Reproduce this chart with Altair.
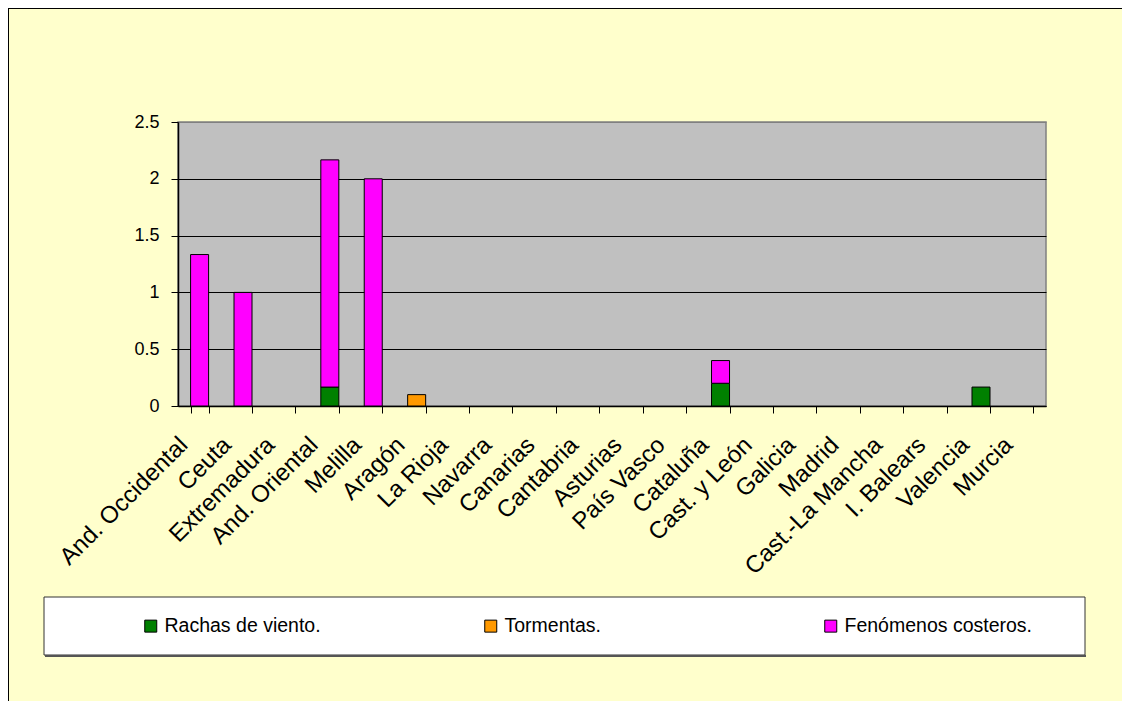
import altair as alt
import pandas as pd

categories = ["And. Occidental", "Ceuta", "Extremadura", "And. Oriental", "Melilla",
              "Aragón", "La Rioja", "Navarra", "Canarias", "Cantabria", "Asturias",
              "País Vasco", "Cataluña", "Cast. y León", "Galicia", "Madrid",
              "Cast.-La Mancha", "I. Balears", "Valencia", "Murcia"]
series = ["Rachas de viento.", "Tormentas.", "Fenómenos costeros."]
colors = ["#008000", "#FF9900", "#FF00FF"]

rachas = [0, 0, 0, 0.1667, 0, 0, 0, 0, 0, 0, 0, 0, 0.2, 0, 0, 0, 0, 0, 0.1667, 0]
tormentas = [0, 0, 0, 0, 0, 0.1, 0, 0, 0, 0, 0, 0, 0, 0, 0, 0, 0, 0, 0, 0]
costeros = [1.3333, 1.0, 0, 2.0, 2.0, 0, 0, 0, 0, 0, 0, 0, 0.2, 0, 0, 0, 0, 0, 0, 0]
y_ticks = [0, 0.5, 1, 1.5, 2, 2.5]

rows = []
for i, (name, vals) in enumerate(zip(series, [rachas, tormentas, costeros])):
    for c, v in zip(categories, vals):
        if v > 0:
            rows.append({"cat": c, "serie": name, "val": v, "ord": i})
df = pd.DataFrame(rows)

W, H = 868, 284
PL, PT = 170, 114
PR = 1114 - PL - W
PB = 693 - PT - H
FONT = "Liberation Sans"

one = pd.DataFrame({"k": [0]})

border_left = alt.Chart(one).mark_rule(color="black", strokeWidth=2).encode(
    x=alt.value(-170), y=alt.value(-PT), y2=alt.value(H + PB))
border_top = alt.Chart(one).mark_rule(color="black", strokeWidth=2).encode(
    x=alt.value(-PL), x2=alt.value(W + PR), y=alt.value(-114))

legend_box = alt.Chart(one).mark_rect(fill="white", stroke="#333333", strokeWidth=1).encode(
    x=alt.value(-134), x2=alt.value(907), y=alt.value(475), y2=alt.value(533))
legend_shadow = alt.Chart(one).mark_rule(color="#555555", strokeWidth=2).encode(
    x=alt.value(-133), x2=alt.value(908), y=alt.value(534))

bars = alt.Chart(df).mark_bar(stroke="black", strokeWidth=1).encode(
    x=alt.X("cat:N", sort=categories,
            scale=alt.Scale(domain=categories, paddingInner=0.585, paddingOuter=0.29),
            axis=alt.Axis(title=None, labelAngle=-45, labelAlign="right", labelBaseline="middle",
                          labelFont=FONT, labelFontSize=24, labelColor="black",
                          labelPadding=28, labelOffset=-16, tickBand="extent", tickSize=7,
                          tickColor="black", domainColor="black", domainWidth=1.5,
                          grid=False, labelOverlap=False, labelLimit=400)),
    y=alt.Y("val:Q", stack="zero",
            scale=alt.Scale(domain=[0, 2.5], nice=False),
            axis=alt.Axis(title=None, values=y_ticks, format="~g",
                          labelFont=FONT, labelFontSize=18, labelColor="black",
                          labelPadding=12, tickSize=7, tickColor="black",
                          domainColor="black", domainWidth=1.5,
                          grid=True,
                          gridColor=alt.condition("datum.value >= 2.5", alt.value("#808080"), alt.value("#000000")),
                          gridWidth=1)),
    color=alt.Color("serie:N", scale=alt.Scale(domain=series, range=colors),
                    legend=alt.Legend(title=None, orient="none", legendX=-37, legendY=494,
                                      direction="horizontal", columns=3, gridAlign="all",
                                      columnPadding=128, symbolType="square", symbolSize=144,
                                      symbolStrokeColor="black", symbolStrokeWidth=1,
                                      labelFont=FONT, labelFontSize=19.5, labelColor="black",
                                      labelOffset=4, padding=0, labelLimit=400)),
    order=alt.Order("ord:Q"),
)

chart = alt.layer(border_left, border_top, legend_box, legend_shadow, bars).properties(
    width=W, height=H, autosize="none",
    padding={"left": PL, "top": PT, "right": PR, "bottom": PB},
).configure(background="#FFFFCC").configure_view(fill="#C0C0C0", stroke="#808080", strokeWidth=1.5)

chart.save("out.html", embed_options={"renderer": "svg", "actions": False})
